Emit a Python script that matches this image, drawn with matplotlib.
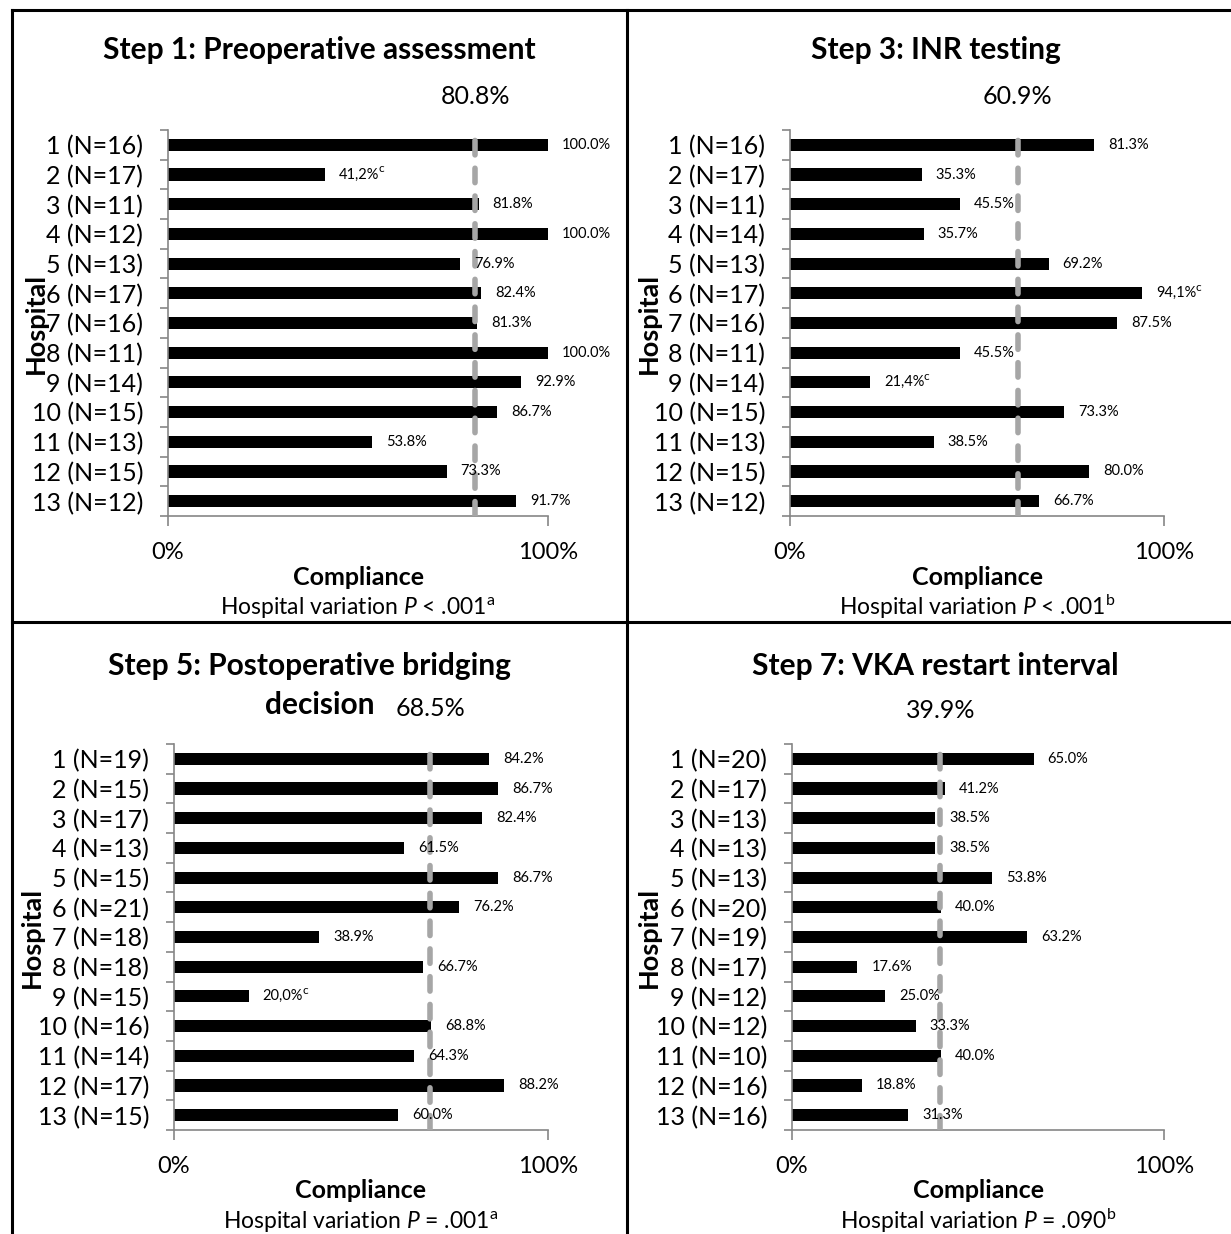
import numpy as np
import matplotlib
matplotlib.use("Agg")
import matplotlib.pyplot as plt
from matplotlib.lines import Line2D

plt.rcParams['font.family'] = ['Lato', 'DejaVu Sans']
plt.rcParams['mathtext.fontset'] = 'custom'
plt.rcParams['mathtext.rm'] = 'Lato'
plt.rcParams['mathtext.it'] = 'Lato:italic'
plt.rcParams['mathtext.bf'] = 'Lato:bold'

W, H = 1231, 1234

# ---- data ----
hospitals = np.arange(1, 14)

step1_n = [16, 17, 11, 12, 13, 17, 16, 11, 14, 15, 13, 15, 12]
step1_val = [100.0, 41.2, 81.8, 100.0, 76.9, 82.4, 81.3, 100.0, 92.9, 86.7, 53.8, 73.3, 91.7]
step1_mean = 80.8
step1_flag = [2]

step3_n = [16, 17, 11, 14, 13, 17, 16, 11, 14, 15, 13, 15, 12]
step3_val = [81.3, 35.3, 45.5, 35.7, 69.2, 94.1, 87.5, 45.5, 21.4, 73.3, 38.5, 80.0, 66.7]
step3_mean = 60.9
step3_flag = [6, 9]

step5_n = [19, 15, 17, 13, 15, 21, 18, 18, 15, 16, 14, 17, 15]
step5_val = [84.2, 86.7, 82.4, 61.5, 86.7, 76.2, 38.9, 66.7, 20.0, 68.8, 64.3, 88.2, 60.0]
step5_mean = 68.5
step5_flag = [9]

step7_n = [20, 17, 13, 13, 13, 20, 19, 17, 12, 12, 10, 16, 16]
step7_val = [65.0, 41.2, 38.5, 38.5, 53.8, 40.0, 63.2, 17.6, 25.0, 33.3, 40.0, 18.8, 31.3]
step7_mean = 39.9
step7_flag = []

pvals = [r"Hospital variation $P$ < .001$^{\mathrm{a}}$",
         r"Hospital variation $P$ < .001$^{\mathrm{b}}$",
         r"Hospital variation $P$ = .001$^{\mathrm{a}}$",
         r"Hospital variation $P$ = .090$^{\mathrm{b}}$"]


def fx(x):
    return x / W


def fy(y):
    return 1 - y / H


fig = plt.figure(figsize=(W / 100, H / 100), dpi=100)

# panel borders
for xs, ys in [([12, 1231], [10, 10]), ([12, 12], [10, 1234]),
               ([627, 627], [10, 1234]), ([12, 1231], [622, 622])]:
    fig.add_artist(Line2D([fx(v) for v in xs], [fy(v) for v in ys],
                          color="black", lw=2.2, transform=fig.transFigure))


def panel(box, n, vals, mean, flags, title_lines, mean_y, ylab_x, ptxt):
    left, right, top, bottom = box
    ax = fig.add_axes([fx(left), fy(bottom), fx(right - left), (bottom - top) / H])
    y = np.arange(13)
    v = np.array(vals) / 100
    ax.barh(y, v, height=0.41, color="black")
    ax.set_xlim(0, 1)
    ax.set_ylim(12.5, -0.5)
    ax.axvline(mean / 100, color="#a6a6a6", lw=4, ls=(0, (2.6, 2.4)),
               dash_capstyle="round", zorder=3)
    for i in range(13):
        if (i + 1) in flags:
            s = "{:.1f}%".format(vals[i]).replace(".", ",")
        else:
            s = "{:.1f}%".format(vals[i])
        lab = ax.annotate(s, (v[i], y[i]), xytext=(10, 0), textcoords="offset points",
                          va="center", ha="left", fontsize=10.5)
        if (i + 1) in flags:
            # superscript note marker
            ax.annotate("c", xy=(1, 0.95), xycoords=lab, xytext=(-0.5, 0),
                        textcoords="offset points", ha="left", va="center", fontsize=8.5)
    for sp in ["top", "right"]:
        ax.spines[sp].set_visible(False)
    for sp in ["left", "bottom"]:
        ax.spines[sp].set_color("#868686")
        ax.spines[sp].set_linewidth(1.2)
    ax.set_yticks(y)
    ax.set_yticklabels(["{} (N={})".format(h, k) for h, k in zip(hospitals, n)], fontsize=18)
    ax.tick_params(axis="y", which="major", length=0, pad=18)
    ax.set_yticks(np.arange(-0.5, 13), minor=True)
    ax.tick_params(axis="y", which="minor", length=6, color="#868686", width=1.2)
    ax.set_xticks([0, 1])
    ax.set_xticklabels(["0%", "100%"], fontsize=17)
    ax.tick_params(axis="x", length=7, color="#868686", width=1.2, pad=12)
    ax.set_facecolor("none")

    cx = (left + right) / 2
    for tx, ty, tt in title_lines:
        fig.text(fx(tx), fy(ty), tt, fontsize=21.5, fontweight="bold", ha="center", va="center")
    mx = left + (right - left) * mean / 100
    fig.text(fx(mx), fy(mean_y), "{:.1f}%".format(mean), fontsize=18, ha="center", va="center")
    fig.text(fx(ylab_x), fy((top + bottom) / 2), "Hospital", fontsize=19.5, fontweight="bold",
             rotation=90, ha="center", va="center")
    fig.text(fx(cx), fy(bottom + 61), "Compliance", fontsize=18,
             fontweight="bold", ha="center", va="center")
    fig.text(fx(cx), fy(bottom + 91), ptxt, fontsize=16.5,
             ha="center", va="center")


panel((168, 548, 130, 516), step1_n, step1_val, step1_mean, step1_flag,
      [(319, 50, "Step 1: Preoperative assessment")], 97, 36, pvals[0])
panel((790, 1164, 130, 516), step3_n, step3_val, step3_mean, step3_flag,
      [(936, 50, "Step 3: INR testing")], 97, 649, pvals[1])
panel((174, 548, 744, 1130), step5_n, step5_val, step5_mean, step5_flag,
      [(310, 666, "Step 5: Postoperative bridging"), (320, 705, "decision")], 709, 32, pvals[2])
panel((792, 1164, 744, 1130), step7_n, step7_val, step7_mean, step7_flag,
      [(935, 666, "Step 7: VKA restart interval")], 710, 649, pvals[3])

fig.savefig("out.png", dpi=100)
